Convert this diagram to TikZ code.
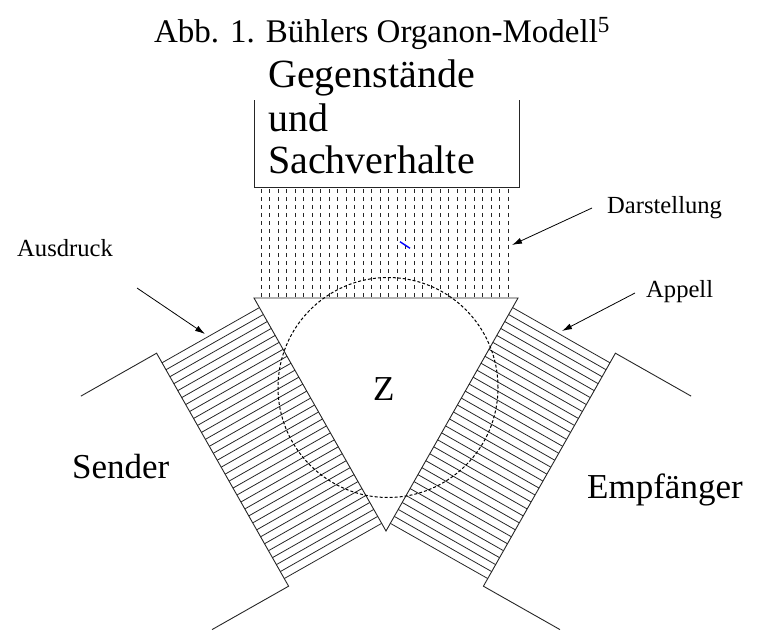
\documentclass[tikz,border=0pt]{standalone}
\usepackage{fontspec}
\setmainfont{Liberation Serif}
\usetikzlibrary{calc,arrows.meta}
\begin{document}
\begin{tikzpicture}[x=1pt,y=-1pt,
  edge/.style={draw=black!85, line width=0.9pt},
  hatch/.style={draw=black!85, line width=0.8pt},
  vdash/.style={draw=black!85, line width=0.8pt, dash pattern=on 4pt off 4pt},
  ring/.style={draw=black, line width=1pt, dash pattern=on 3pt off 2pt},
  pointer/.style={draw=black, line width=0.8pt, -{Latex[length=10pt,width=6pt]}},
  titlefont/.style={font=\fontsize{33}{39}\selectfont, inner sep=0pt},
  boxfont/.style={font=\fontsize{40}{46}\selectfont, inner sep=0pt},
  big/.style={font=\fontsize{35}{41}\selectfont, inner sep=0pt},
  small/.style={font=\fontsize{24.6}{29}\selectfont, inner sep=0pt}]
\useasboundingbox (0,0) rectangle (783,643);
% triangle corners
\coordinate (TL) at (254,298);
\coordinate (TR) at (518,298);
\coordinate (AP) at (386,531);
% sender funnel
\coordinate (F1) at (156.6,353.2);
\coordinate (F2) at (288.6,586.2);
\coordinate (S1) at (80.9,396.1);
\coordinate (S2) at (212.0,629.6);
% receiver funnel
\coordinate (G1) at (615.4,353.2);
\coordinate (G2) at (483.4,586.2);
\coordinate (E1) at (691.1,396.1);
\coordinate (E2) at (560.0,629.6);
% top box
\coordinate (B1) at (254,100);
\coordinate (B2) at (254,187);
\coordinate (B3) at (519,187);
\coordinate (B4) at (519,100);
\draw[edge] (B1) -- (B2) -- (B3) -- (B4);
% vertical dashes (Darstellung)
\foreach \i in {0,...,29} {
  \draw[vdash] ({261+\i*8.52},189) -- ({261+\i*8.52},298);
}
% triangle
\draw[edge] (TL) -- (TR) -- (AP) -- cycle;
% hatched bands
\foreach \i in {0,...,31} {
  \pgfmathsetmacro\t{11+\i*8}
  \draw[hatch] ($(TL)!\t pt!(AP)$) -- ($(F1)!\t pt!(F2)$);
  \draw[hatch] ($(TR)!\t pt!(AP)$) -- ($(G1)!\t pt!(G2)$);
}
% funnels
\draw[edge] (S1) -- (F1) -- (F2) -- (S2);
\draw[edge] (E1) -- (G1) -- (G2) -- (E2);
% circle
\node[ring, circle, minimum size=220pt, inner sep=0pt] (circ) at (388,387.5) {};
% blue tick
\coordinate (bt1) at (400,241.7);
\coordinate (bt2) at (410,248.3);
\draw[blue, line width=1.4pt] (bt1) -- (bt2);
% texts
\node[titlefont, anchor=base] (title) at (382,42) {Abb. 1. Bühlers Organon-Modell\textsuperscript{5}};
\node[boxfont, anchor=base west] (g1) at (268,87) {Gegenstände};
\node[boxfont, anchor=base west] (g2) at (268,131) {und};
\node[boxfont, anchor=base west] (g3) at (268,173) {Sachverhalte};
\node[big, anchor=base west] (zl) at (373,400) {Z};
\node[big, anchor=base west] (sender) at (72,478) {Sender};
\node[big, anchor=base west] (empf) at (587,498) {Empfänger};
\node[small, anchor=base west] (ausdruck) at (17,256) {Ausdruck};
\node[small, anchor=base west] (darst) at (607,213) {Darstellung};
\node[small, anchor=base west] (appell) at (646,297) {Appell};
% arrows
\coordinate (a1) at (137,288);
\coordinate (a2) at (205,334);
\coordinate (d1) at (592,208);
\coordinate (d2) at (512,245);
\coordinate (p1) at (635,293);
\coordinate (p2) at (562,331);
\draw[pointer] (a1) -- (a2);
\draw[pointer] (d1) -- (d2);
\draw[pointer] (p1) -- (p2);
\end{tikzpicture}
\end{document}
